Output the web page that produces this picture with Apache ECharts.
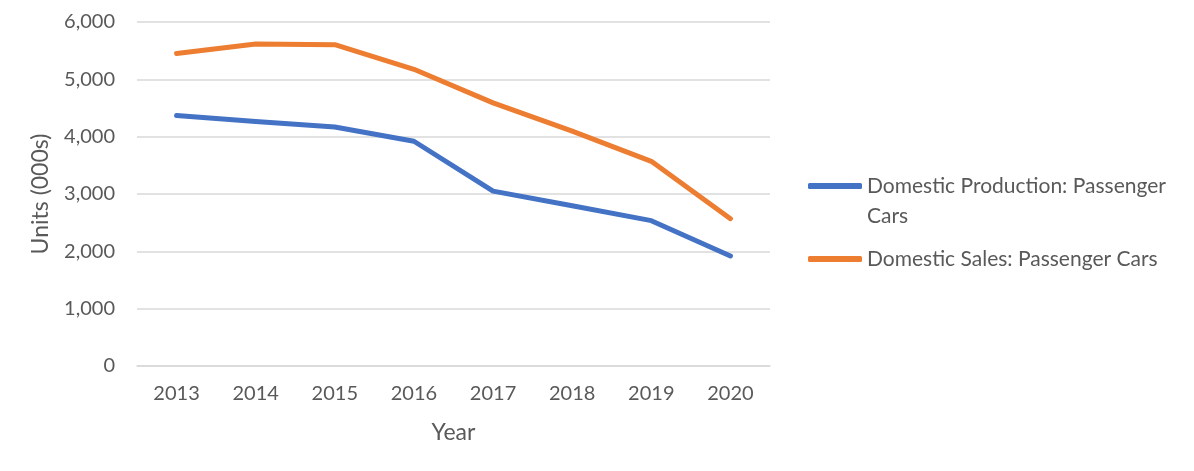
<!DOCTYPE html>
<html><head><meta charset="utf-8">
<script src="https://cdn.jsdelivr.net/npm/echarts@6/dist/echarts.min.js"></script>
<style>html,body{margin:0;padding:0;background:#fff}#c{width:1194px;height:471px}</style>
</head><body><div id="c"></div>
<script>
const years = ['2013','2014','2015','2016','2017','2018','2019','2020'];
const production = [4370, 4265, 4170, 3920, 3050, 2795, 2535, 1920];
const sales = [5450, 5615, 5605, 5175, 4590, 4095, 3570, 2570];
const yTicks = [0, 1000, 2000, 3000, 4000, 5000, 6000];
const nameProd = 'Domestic Production: Passenger Cars';
const nameSales = 'Domestic Sales: Passenger Cars';

const FONT = 'Lato';
const FS = 20;
const TXT = '#595959';
const LH = 30;

const chart = echarts.init(document.getElementById('c'), null, {renderer: 'canvas'});
chart.setOption({
  animation: false,
  backgroundColor: '#fff',
  textStyle: {fontFamily: FONT},
  grid: {left: 137, right: 424, top: 22, bottom: 105},
  xAxis: {
    type: 'category', data: years, boundaryGap: true,
    name: 'Year', nameLocation: 'middle', nameGap: 55,
    nameTextStyle: {fontFamily: FONT, fontSize: 23, color: TXT},
    axisLine: {lineStyle: {color: '#D9D9D9', width: 1.5}},
    axisTick: {show: false},
    axisLabel: {fontFamily: FONT, fontSize: FS, color: TXT, margin: 18}
  },
  yAxis: {
    type: 'value', min: yTicks[0], max: yTicks[yTicks.length - 1], interval: 1000,
    name: 'Units (000s)', nameLocation: 'middle', nameGap: 85,
    nameTextStyle: {fontFamily: FONT, fontSize: 23, color: TXT},
    axisLine: {show: false}, axisTick: {show: false},
    splitLine: {lineStyle: {color: '#D9D9D9', width: 1.5}},
    axisLabel: {fontFamily: FONT, fontSize: FS, color: TXT, margin: 22,
      formatter: v => v.toLocaleString('en-US')}
  },
  legend: [
    {
      left: 808, top: 186 - LH * 1.5, padding: 0,
      icon: 'roundRect', itemWidth: 54, itemHeight: 6,
      data: [nameProd],
      formatter: () => ' \nDomestic Production: Passenger\nCars',
      textStyle: {fontFamily: FONT, fontSize: 21, color: TXT, lineHeight: LH}
    },
    {
      left: 808, top: 259 - LH / 2, padding: 0,
      icon: 'roundRect', itemWidth: 54, itemHeight: 6,
      data: [nameSales],
      textStyle: {fontFamily: FONT, fontSize: 21, color: TXT, lineHeight: LH}
    }
  ],
  series: [
    {name: nameProd, type: 'line', data: production, symbol: 'none',
      lineStyle: {color: '#4472C4', width: 5, cap: 'round', join: 'round'}, itemStyle: {color: '#4472C4'}},
    {name: nameSales, type: 'line', data: sales, symbol: 'none',
      lineStyle: {color: '#ED7D31', width: 5, cap: 'round', join: 'round'}, itemStyle: {color: '#ED7D31'}}
  ]
});
</script></body></html>
